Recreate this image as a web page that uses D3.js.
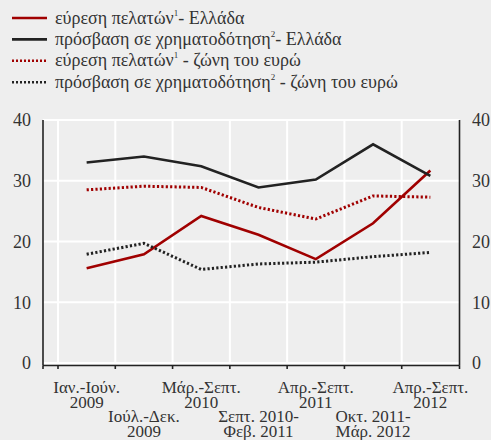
<!DOCTYPE html>
<html>
<head>
<meta charset="utf-8">
<script src="https://cdn.jsdelivr.net/npm/d3@7/dist/d3.min.js"></script>
<style>
  html, body { margin: 0; padding: 0; background: #eeeeee; }
  svg { display: block; }
  svg text { font-family: "Liberation Serif", "Times New Roman", Tinos, Times, "DejaVu Serif", "Noto Serif", serif; }
</style>
</head>
<body>
<svg id="chart" width="491" height="440"></svg>
<script>
// Survey periods (two-line labels)
const periods = [
  ["Ιαν.-Ιούν.", "2009"],
  ["Ιούλ.-Δεκ.", "2009"],
  ["Μάρ.-Σεπτ.", "2010"],
  ["Σεπτ. 2010-", "Φεβ. 2011"],
  ["Απρ.-Σεπτ.", "2011"],
  ["Οκτ. 2011-", "Μάρ. 2012"],
  ["Απρ.-Σεπτ.", "2012"]
];

// Percentages of firms naming each issue as most pressing
const customersGreece  = [15.6, 17.9, 24.2, 21.1, 17.1, 23.0, 31.7];
const financeGreece    = [33.0, 34.0, 32.4, 28.9, 30.2, 36.0, 30.8];
const customersEuro    = [28.5, 29.1, 28.9, 25.6, 23.7, 27.5, 27.3];
const financeEuro      = [17.9, 19.7, 15.4, 16.3, 16.6, 17.5, 18.2];

const yTicks = [0, 10, 20, 30, 40];

const series = [
  { values: customersGreece, color: "#a00000", dotted: false,
    text: [["εύρεση πελατών", ""], ["1", "sup"], ["- Ελλάδα", ""]] },
  { values: financeGreece, color: "#222222", dotted: false,
    text: [["πρόσβαση σε χρηματοδότηση", ""], ["2", "sup"], ["- Ελλάδα", ""]] },
  { values: customersEuro, color: "#a00000", dotted: true,
    text: [["εύρεση πελατών", ""], ["1", "sup"], [" - ζώνη του ευρώ", ""]] },
  { values: financeEuro, color: "#222222", dotted: true,
    text: [["πρόσβαση σε χρηματοδότηση", ""], ["2", "sup"], [" - ζώνη του ευρώ", ""]] }
];

const svg = d3.select("#chart");
const axisLeftX = 43, axisRightX = 459.5, axisBottomY = 365.5;

const x = d3.scaleBand().domain(d3.range(periods.length)).range([58, 459]).paddingInner(0).paddingOuter(0);
const y = d3.scaleLinear().domain([0, 40]).range([363, 120]);
const cx = i => x(i) + x.bandwidth() / 2;

// Grid
const grid = svg.append("g").attr("stroke", "#ffffff").attr("stroke-width", 2);
yTicks.forEach(t => {
  grid.append("line").attr("x1", axisLeftX).attr("x2", axisRightX)
    .attr("y1", y(t)).attr("y2", y(t));
});
const bounds = d3.range(periods.length).map(i => x(i));
bounds.forEach(b => {
  grid.append("line").attr("x1", b).attr("x2", b)
    .attr("y1", y(40)).attr("y2", y(0));
});

// Axes frame
const frame = svg.append("g").attr("stroke", "#222").attr("stroke-width", 1.6).attr("fill", "none");
frame.append("line").attr("x1", axisLeftX).attr("x2", axisLeftX).attr("y1", y(40)).attr("y2", axisBottomY);
frame.append("line").attr("x1", axisRightX).attr("x2", axisRightX).attr("y1", y(40)).attr("y2", axisBottomY);
frame.append("line").attr("x1", axisLeftX).attr("x2", axisRightX).attr("y1", axisBottomY).attr("y2", axisBottomY);
[axisLeftX].concat(bounds).concat([axisRightX]).forEach(b => {
  frame.append("line").attr("x1", b).attr("x2", b).attr("y1", axisBottomY).attr("y2", axisBottomY + 3.5);
});

// Y tick labels on both sides
const tickFont = 18;
svg.append("g").selectAll("text").data(yTicks).join("text")
  .attr("x", 31).attr("y", d => y(d)).attr("dy", "0.35em")
  .attr("text-anchor", "end").attr("font-size", tickFont).attr("fill", "#333")
  .text(d => d);
svg.append("g").selectAll("text").data(yTicks).join("text")
  .attr("x", 472).attr("y", d => y(d)).attr("dy", "0.35em")
  .attr("text-anchor", "start").attr("font-size", tickFont).attr("fill", "#333")
  .text(d => d);

// Period labels, staggered on alternate rows; each label is one two-line text
const lab = svg.append("g").attr("font-size", 17).attr("fill", "#333").attr("text-anchor", "middle");
periods.forEach((p, i) => {
  const base = i % 2 === 0 ? 392.5 : 421.5;
  const t = lab.append("text").attr("x", cx(i)).attr("y", base);
  p.forEach((line, k) => {
    t.append("tspan").attr("x", cx(i)).attr("dy", k === 0 ? 0 : 15.5).text(line);
  });
});

// Lines
const lineGen = d3.line().x((d, i) => cx(i)).y(d => y(d));
series.forEach(s => {
  svg.append("path").datum(s.values)
    .attr("d", lineGen)
    .attr("fill", "none")
    .attr("stroke", s.color)
    .attr("stroke-width", s.dotted ? 3 : 2.6)
    .attr("stroke-dasharray", s.dotted ? "2.2,2.2" : null);
});

// Legend
const leg = svg.append("g");
series.forEach((s, i) => {
  const ly = 18 + i * 21.4;
  leg.append("line").attr("x1", 12).attr("x2", 47).attr("y1", ly).attr("y2", ly)
    .attr("stroke", s.color).attr("stroke-width", 2.6)
    .attr("stroke-dasharray", s.dotted ? "2,2" : null);
  const t = leg.append("text").attr("x", 55).attr("y", ly + 5.5)
    .attr("font-size", 18).attr("fill", "#333");
  s.text.forEach(([str, kind]) => {
    const ts = t.append("tspan").text(str);
    if (kind === "sup") ts.attr("font-size", 9).attr("dy", -8);
    else if (str.startsWith("-") || str.startsWith(" -")) ts.attr("dy", 8);
  });
});
</script>
</body>
</html>
